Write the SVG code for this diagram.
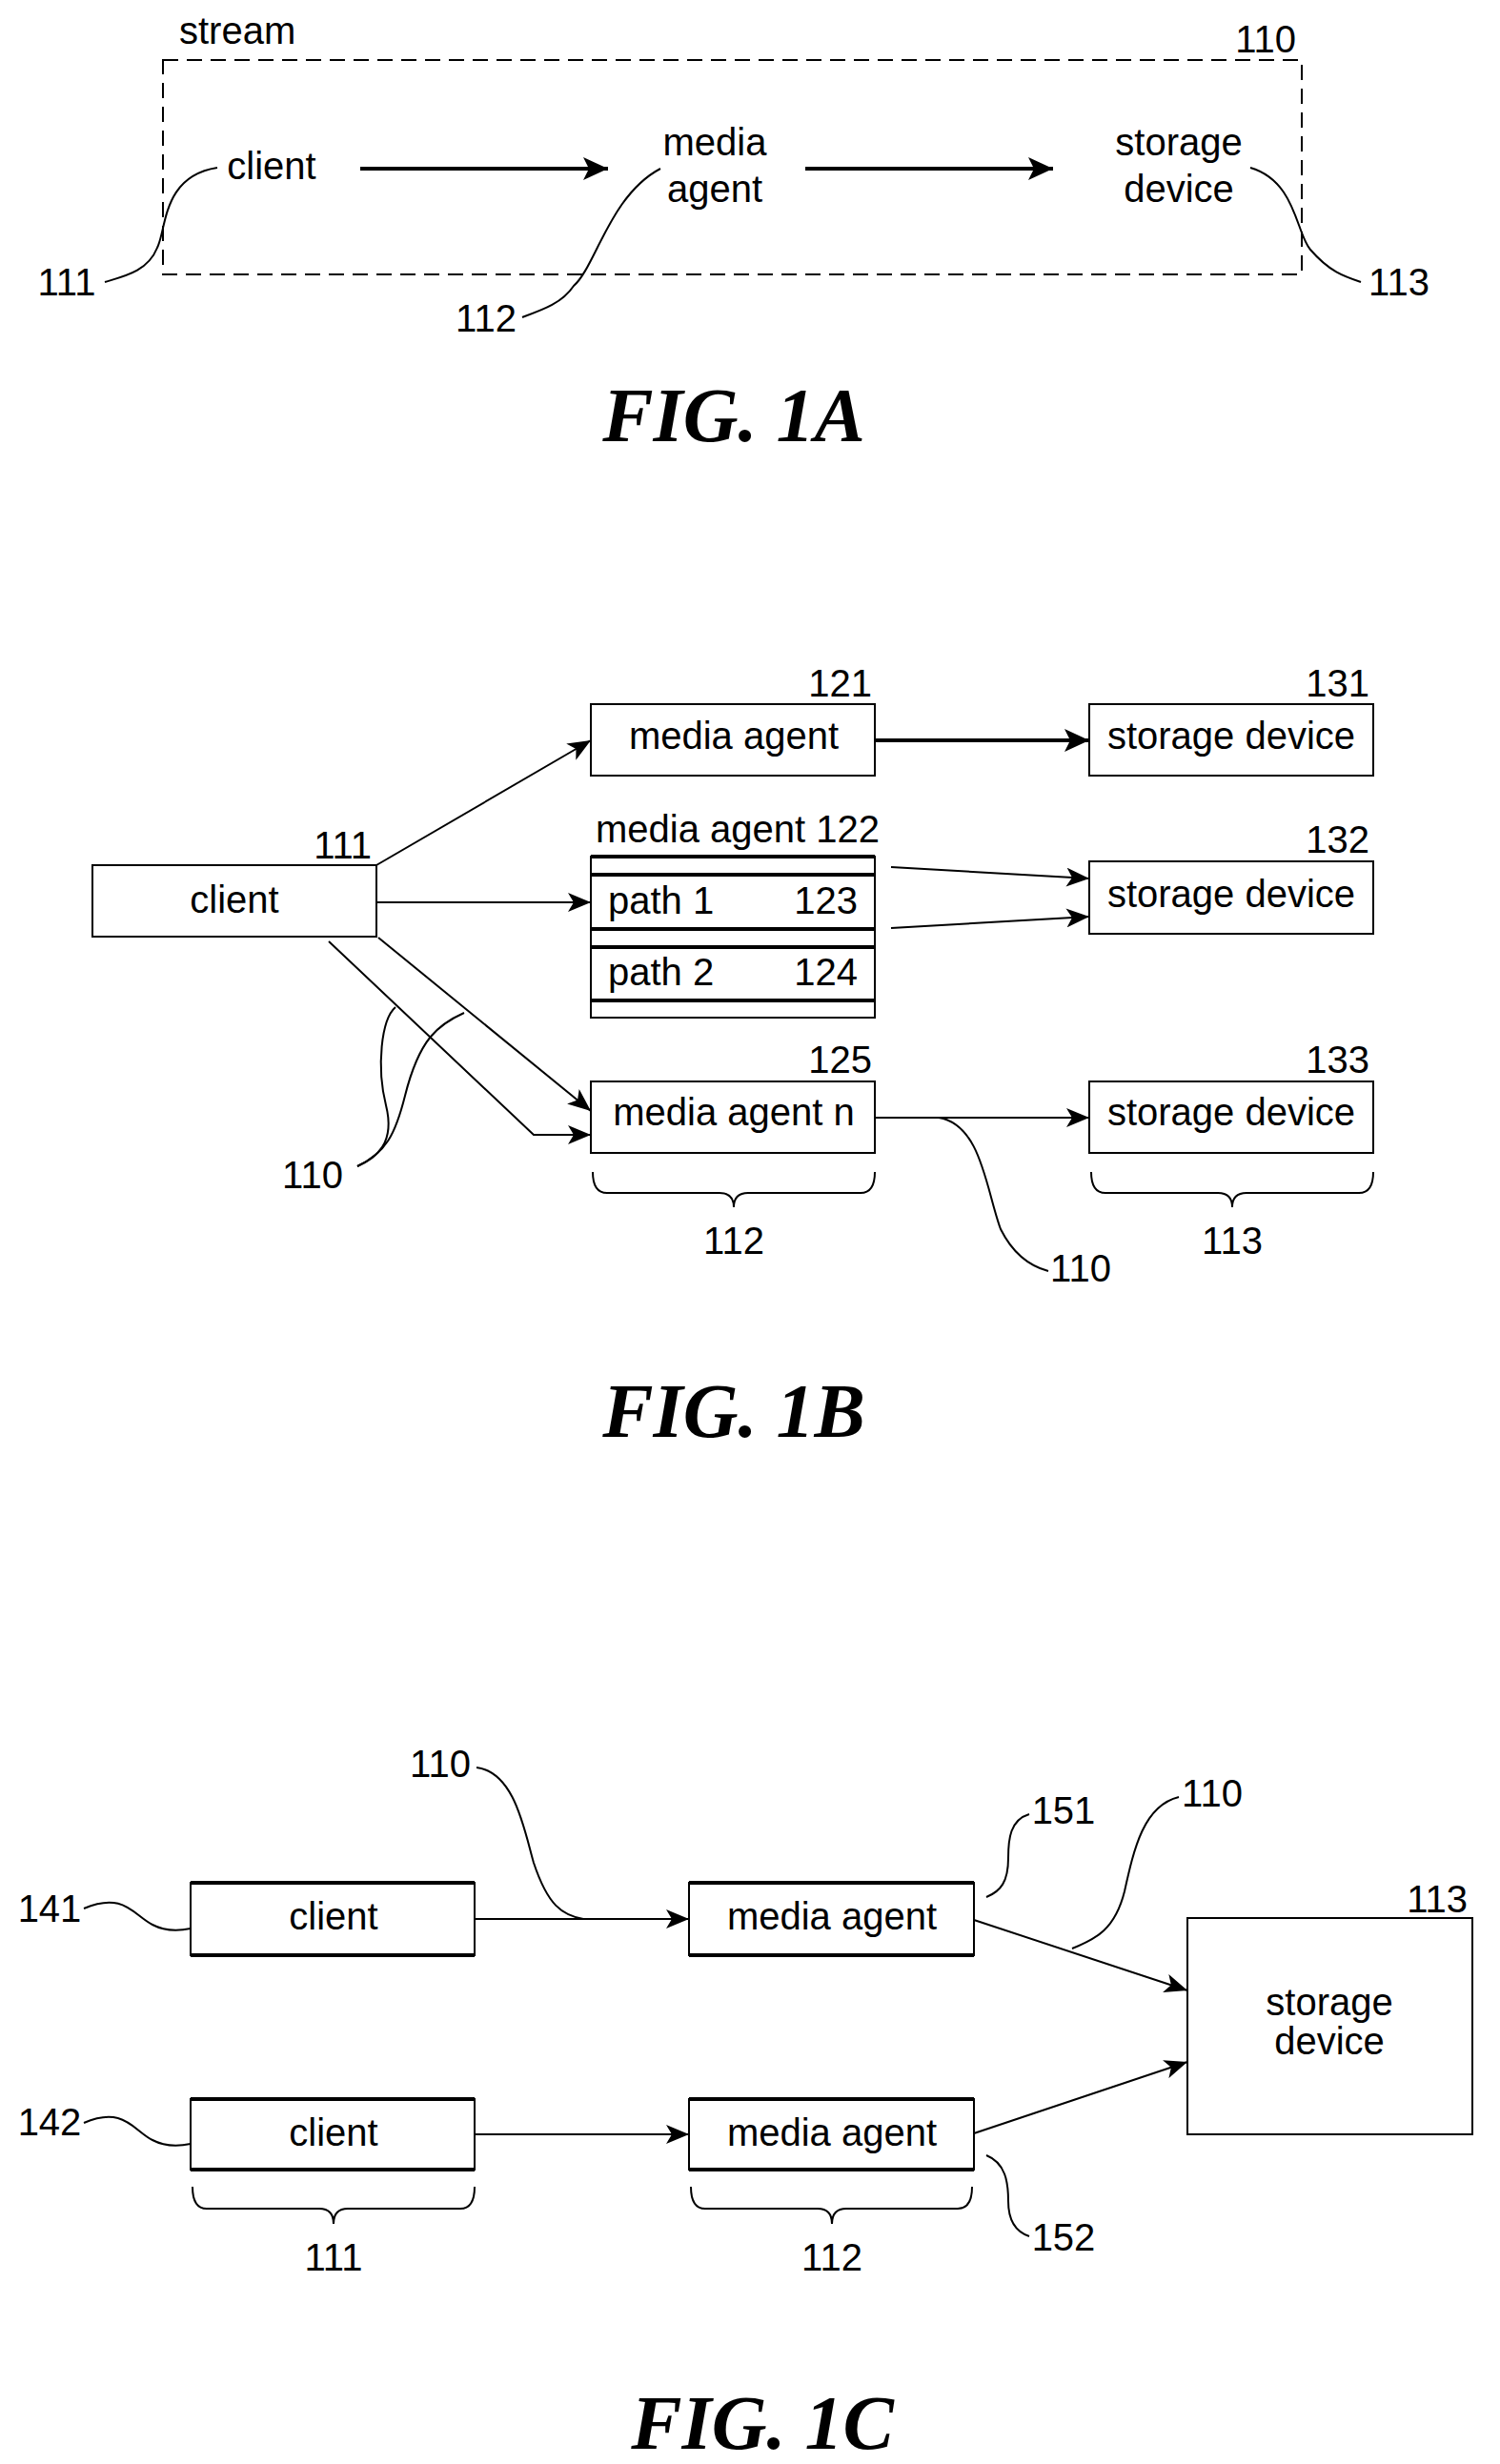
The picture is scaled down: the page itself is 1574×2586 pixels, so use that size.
<svg xmlns="http://www.w3.org/2000/svg" width="1574" height="2586" viewBox="0 0 1574 2586">
<style>
text{font-family:"Liberation Sans",Arial,sans-serif;font-size:40px;fill:#000}
.m{text-anchor:middle}.r{text-anchor:end}
.fig{font-family:"Liberation Serif","Times New Roman",serif;font-weight:bold;font-style:italic;font-size:80px;text-anchor:middle}
.box{fill:#fff;stroke:#000;stroke-width:2}
.ln{fill:none;stroke:#000;stroke-width:2}
.th{fill:none;stroke:#000;stroke-width:4}
.arr{fill:none;stroke:#000;stroke-width:2;marker-end:url(#ah)}
.arrb{fill:none;stroke:#000;stroke-width:4;marker-end:url(#ahb)}
</style>
<defs>
<marker id="ah" markerUnits="userSpaceOnUse" markerWidth="26" markerHeight="20" refX="24" refY="10" orient="auto"><path d="M0,0 L24,10 L0,20 L6,10 Z" fill="#000"/></marker>
<marker id="ahb" markerUnits="userSpaceOnUse" markerWidth="28" markerHeight="24" refX="26" refY="12" orient="auto"><path d="M0,0 L26,12 L0,24 L6,12 Z" fill="#000"/></marker>
</defs>

<!-- FIG 1A -->
<g id="stream110">
<rect x="171" y="63" width="1195" height="225" fill="none" stroke="#000" stroke-width="2" stroke-dasharray="16,9"/>
<text x="188" y="46">stream</text>
<text x="1360" y="55" class="r">110</text>
</g>
<g id="a-client"><text x="285" y="188" class="m">client</text></g>
<g id="a-media"><text x="750" y="163" class="m">media</text><text x="750" y="212" class="m">agent</text></g>
<g id="a-storage"><text x="1237" y="163" class="m">storage</text><text x="1237" y="212" class="m">device</text></g>
<g id="a-connectors">
<line x1="378" y1="177" x2="638" y2="177" class="arrb"/>
<line x1="845" y1="177" x2="1105" y2="177" class="arrb"/>
<path d="M228,176 C170,185 175,240 165,260 C155,285 130,290 110,296" class="ln"/>
<path d="M693,177 C640,205 625,280 602,300 C590,318 570,325 548,333" class="ln"/>
<path d="M1312,176 C1360,190 1360,245 1375,262 C1395,285 1410,290 1428,296" class="ln"/>
</g>
<text x="70" y="310" class="m">111</text>
<text x="510" y="348" class="m">112</text>
<text x="1468" y="310" class="m">113</text>
<text x="770" y="463" class="fig">FIG. 1A</text>

<!-- FIG 1B -->
<g id="b-client"><rect x="97" y="908" width="298" height="75" class="box"/><text x="246" y="958" class="m">client</text><text x="390" y="901" class="r">111</text></g>
<g id="b-ma121"><rect x="620" y="739" width="298" height="75" class="box"/><text x="770" y="786" class="m">media agent</text><text x="915" y="731" class="r">121</text></g>
<g id="b-sd131"><rect x="1143" y="739" width="298" height="75" class="box"/><text x="1292" y="786" class="m">storage device</text><text x="1437" y="731" class="r">131</text></g>
<g id="b-ma122">
<text x="625" y="884">media agent 122</text>
<rect x="620" y="899" width="298" height="169" class="box"/>
<line x1="620" y1="899" x2="918" y2="899" class="th"/>
<line x1="620" y1="918" x2="918" y2="918" class="th"/>
<line x1="620" y1="975" x2="918" y2="975" class="th"/>
<line x1="620" y1="994" x2="918" y2="994" class="th"/>
<line x1="620" y1="1050" x2="918" y2="1050" class="th"/>
<text x="638" y="959">path 1</text><text x="900" y="959" class="r">123</text>
<text x="638" y="1034">path 2</text><text x="900" y="1034" class="r">124</text>
</g>
<g id="b-sd132"><rect x="1143" y="904" width="298" height="76" class="box"/><text x="1292" y="952" class="m">storage device</text><text x="1437" y="895" class="r">132</text></g>
<g id="b-man"><rect x="620" y="1135" width="298" height="75" class="box"/><text x="770" y="1181" class="m">media agent n</text><text x="915" y="1126" class="r">125</text></g>
<g id="b-sd133"><rect x="1143" y="1135" width="298" height="75" class="box"/><text x="1292" y="1181" class="m">storage device</text><text x="1437" y="1126" class="r">133</text></g>
<g id="b-connectors">
<line x1="395" y1="908" x2="620" y2="777" class="arr"/>
<line x1="918" y1="777" x2="1143" y2="777" class="arrb"/>
<line x1="395" y1="947" x2="620" y2="947" class="arr"/>
<line x1="935" y1="910" x2="1143" y2="922" class="arr"/>
<line x1="935" y1="974" x2="1143" y2="962" class="arr"/>
<line x1="397" y1="984" x2="620" y2="1166" class="arr"/>
<polyline points="345,988 560,1191 620,1191" class="arr"/>
<line x1="918" y1="1173" x2="1143" y2="1173" class="arr"/>
<path d="M985,1173 C1030,1180 1035,1250 1050,1290 C1065,1320 1085,1330 1100,1334" class="ln"/>
<path d="M375,1224 C395,1215 415,1200 405,1160 C395,1120 400,1070 415,1057" class="ln"/>
<path d="M375,1224 C405,1210 415,1190 425,1150 C440,1090 460,1075 487,1063" class="ln"/>
<path d="M622,1230 Q622,1252 637,1252 L755,1252 Q770,1252 770,1267 Q770,1252 785,1252 L903,1252 Q918,1252 918,1230" class="ln"/>
<path d="M1145,1230 Q1145,1252 1160,1252 L1278,1252 Q1293,1252 1293,1267 Q1293,1252 1308,1252 L1426,1252 Q1441,1252 1441,1230" class="ln"/>
</g>
<text x="328" y="1247" class="m">110</text>
<text x="1134" y="1345" class="m">110</text>
<text x="770" y="1316" class="m">112</text>
<text x="1293" y="1316" class="m">113</text>
<text x="770" y="1508" class="fig">FIG. 1B</text>

<!-- FIG 1C -->
<g id="c-client141"><rect x="200" y="1976" width="298" height="76" class="box"/><line x1="200" y1="1976" x2="498" y2="1976" class="th"/><line x1="200" y1="2052" x2="498" y2="2052" class="th"/><text x="350" y="2025" class="m">client</text></g>
<g id="c-ma151"><rect x="723" y="1976" width="299" height="76" class="box"/><line x1="723" y1="1976" x2="1022" y2="1976" class="th"/><line x1="723" y1="2052" x2="1022" y2="2052" class="th"/><text x="873" y="2025" class="m">media agent</text></g>
<g id="c-client142"><rect x="200" y="2203" width="298" height="74" class="box"/><line x1="200" y1="2203" x2="498" y2="2203" class="th"/><line x1="200" y1="2277" x2="498" y2="2277" class="th"/><text x="350" y="2252" class="m">client</text></g>
<g id="c-ma152"><rect x="723" y="2203" width="299" height="74" class="box"/><line x1="723" y1="2203" x2="1022" y2="2203" class="th"/><line x1="723" y1="2277" x2="1022" y2="2277" class="th"/><text x="873" y="2252" class="m">media agent</text></g>
<g id="c-sd113"><rect x="1246" y="2013" width="299" height="227" class="box"/><text x="1395" y="2115" class="m">storage</text><text x="1395" y="2156" class="m">device</text><text x="1540" y="2007" class="r">113</text></g>
<g id="c-connectors">
<line x1="498" y1="2014" x2="723" y2="2014" class="arr"/>
<line x1="498" y1="2240" x2="723" y2="2240" class="arr"/>
<line x1="1022" y1="2015" x2="1246" y2="2089" class="arr"/>
<line x1="1022" y1="2239" x2="1246" y2="2164" class="arr"/>
<path d="M88,2003 C130,1985 140,2010 160,2020 C175,2028 190,2026 200,2024" class="ln"/>
<path d="M88,2228 C130,2210 140,2236 160,2246 C175,2254 190,2252 200,2250" class="ln"/>
<path d="M500,1855 C540,1860 550,1920 560,1955 C575,2000 590,2010 612,2014" class="ln"/>
<path d="M1080,1904 C1060,1910 1058,1930 1058,1950 C1058,1975 1050,1985 1035,1991" class="ln"/>
<path d="M1237,1886 C1200,1895 1190,1940 1180,1985 C1170,2025 1150,2035 1125,2045" class="ln"/>
<path d="M1035,2262 C1055,2270 1058,2290 1058,2310 C1058,2330 1065,2342 1080,2347" class="ln"/>
<path d="M202,2295 Q202,2318 217,2318 L335,2318 Q350,2318 350,2334 Q350,2318 365,2318 L483,2318 Q498,2318 498,2295" class="ln"/>
<path d="M725,2295 Q725,2318 740,2318 L858,2318 Q873,2318 873,2334 Q873,2318 888,2318 L1005,2318 Q1020,2318 1020,2295" class="ln"/>
</g>
<text x="52" y="2017" class="m">141</text>
<text x="52" y="2241" class="m">142</text>
<text x="462" y="1865" class="m">110</text>
<text x="1116" y="1914" class="m">151</text>
<text x="1272" y="1896" class="m">110</text>
<text x="1116" y="2362" class="m">152</text>
<text x="350" y="2383" class="m">111</text>
<text x="873" y="2383" class="m">112</text>
<text x="800" y="2570" class="fig">FIG. 1C</text>
</svg>
